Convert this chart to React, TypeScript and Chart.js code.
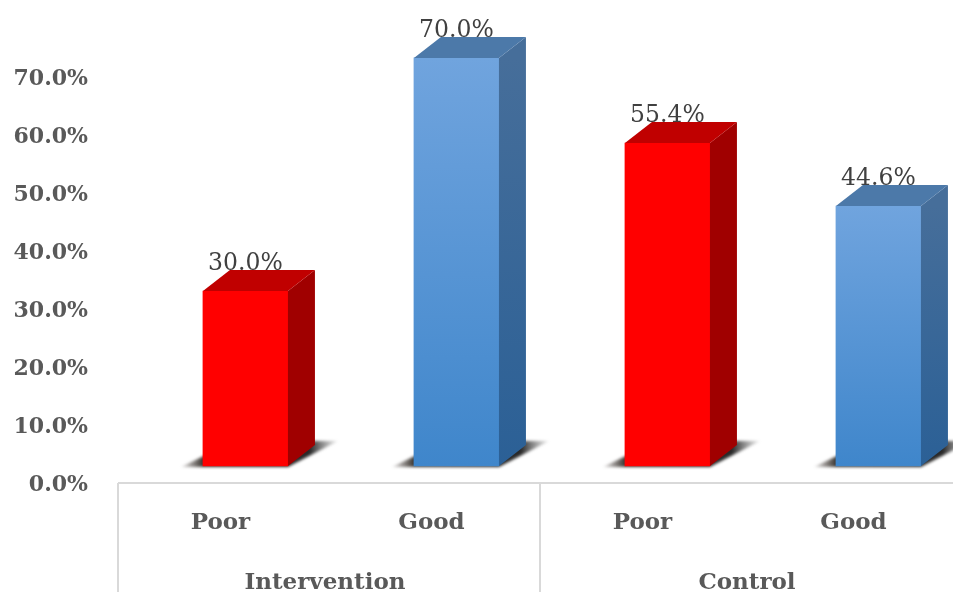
import React, { useEffect, useRef } from "react";
import { Chart, registerables } from "chart.js";

Chart.register(...registerables);

const groupLabels = ["Intervention", "Control"];
const levelLabels = ["Poor", "Good", "Poor", "Good"];
const barPositions = [0, 1, 2, 3];
const percentValues = [30.0, 70.0, 55.4, 44.6];
const axisTicks = [0, 10, 20, 30, 40, 50, 60, 70];

const FONT_FAMILY = '"DejaVu Serif", serif';
const TEXT_GREY = "#595959";
const RULE_GREY = "#d9d9d9";
const DEPTH_X = 27;
const DEPTH_Y = 21;

const faces: Record<string, any> = {
  Poor: { top: "#c00000", sideTop: "#a00000", sideBottom: "#a00000", frontTop: "#ff0000", frontBottom: "#ff0000" },
  Good: { top: "#4c79a9", sideTop: "#466e9a", sideBottom: "#2b6096", frontTop: "#70a4de", frontBottom: "#3f86cb" },
};

// Extruded sides, floor shadows, value labels and the category rules.
const extrusion = {
  id: "extrusion",
  beforeDatasetsDraw(chart: any) {
    const { ctx } = chart;
    const meta = chart.getDatasetMeta(0);
    ctx.save();
    ctx.filter = "blur(1.5px)";
    meta.data.forEach((bar: any) => {
      const half = bar.width / 2;
      const right = bar.x + half;
      const left = bar.x - half;
      const floor = bar.base;
      const grad = ctx.createLinearGradient(left - 22, 0, right + 50, 0);
      grad.addColorStop(0, "rgba(60,50,45,0.1)");
      grad.addColorStop(0.14, "rgba(50,45,40,0.95)");
      grad.addColorStop(0.82, "rgba(40,40,40,1)");
      grad.addColorStop(1, "rgba(90,90,90,0.1)");
      ctx.fillStyle = grad;
      ctx.beginPath();
      ctx.moveTo(left - 22, floor + 1);
      ctx.lineTo(left + 5, floor - 12);
      ctx.lineTo(right + DEPTH_X - 3, floor - 25);
      ctx.lineTo(right + 50, floor - 25);
      ctx.lineTo(right, floor + 1);
      ctx.closePath();
      ctx.fill();
    });
    ctx.restore();
  },
  afterDatasetsDraw(chart: any) {
    const { ctx } = chart;
    const meta = chart.getDatasetMeta(0);
    meta.data.forEach((bar: any, i: number) => {
      const half = bar.width / 2;
      const left = bar.x - half;
      const right = bar.x + half;
      const palette = faces[levelLabels[i]];

      // The label goes first so the top face overlaps its lower edge.
      ctx.save();
      ctx.font = `23.5px ${FONT_FAMILY}`;
      ctx.fillStyle = "#404040";
      ctx.textAlign = "center";
      ctx.textBaseline = "middle";
      ctx.fillText(`${percentValues[i].toFixed(1)}%`, bar.x, bar.y - 27);

      const side = ctx.createLinearGradient(0, bar.y, 0, bar.base);
      side.addColorStop(0, palette.sideTop);
      side.addColorStop(1, palette.sideBottom);
      ctx.fillStyle = side;
      ctx.beginPath();
      ctx.moveTo(right, bar.y);
      ctx.lineTo(right + DEPTH_X, bar.y - DEPTH_Y);
      ctx.lineTo(right + DEPTH_X, bar.base - DEPTH_Y);
      ctx.lineTo(right, bar.base);
      ctx.closePath();
      ctx.fill();

      ctx.fillStyle = palette.top;
      ctx.beginPath();
      ctx.moveTo(left, bar.y);
      ctx.lineTo(left + DEPTH_X, bar.y - DEPTH_Y);
      ctx.lineTo(right + DEPTH_X, bar.y - DEPTH_Y);
      ctx.lineTo(right, bar.y);
      ctx.closePath();
      ctx.fill();
      ctx.restore();
    });
  },
  afterDraw(chart: any) {
    const { ctx, chartArea, scales, height } = chart;
    const step = scales.x.getPixelForValue(1) - scales.x.getPixelForValue(0);
    ctx.save();
    ctx.strokeStyle = RULE_GREY;
    ctx.lineWidth = 2;
    ctx.beginPath();
    ctx.moveTo(chartArea.left, chartArea.bottom);
    ctx.lineTo(chartArea.right, chartArea.bottom);
    groupLabels.forEach((_, g) => {
      const edge = scales.x.getPixelForValue(g * 2) - step / 2;
      ctx.moveTo(edge, chartArea.bottom);
      ctx.lineTo(edge, height);
    });
    ctx.stroke();
    ctx.restore();
  },
};

export default function App() {
  const ref = useRef<HTMLCanvasElement>(null);

  useEffect(() => {
    document.body.style.margin = "0";
    document.body.style.overflow = "hidden";
    const chart = new Chart(ref.current as HTMLCanvasElement, {
      type: "bar",
      data: {
        datasets: [
          {
            label: "Share",
            xAxisID: "xBars",
            yAxisID: "yBars",
            data: barPositions.map((x, i) => ({ x, y: percentValues[i] })),
            barThickness: 85,
            borderWidth: 0,
            backgroundColor: (c: any) => {
              const palette = faces[levelLabels[c.dataIndex]];
              const { yBars } = c.chart.scales;
              if (!yBars || !c.chart.chartArea || c.raw == null) return palette.frontBottom;
              const g = c.chart.ctx.createLinearGradient(0, yBars.getPixelForValue(c.raw.y), 0, yBars.getPixelForValue(0));
              g.addColorStop(0, palette.frontTop);
              g.addColorStop(1, palette.frontBottom);
              return g;
            },
          },
        ],
      },
      options: {
        responsive: false,
        animation: false,
        clip: false,
        layout: { padding: { top: 19, right: 3, left: 0, bottom: 0 } },
        plugins: { legend: { display: false }, tooltip: { enabled: false } },
        scales: {
          y: {
            position: "left",
            min: 0.35,
            max: 80.35,
            afterBuildTicks: (axis: any) => {
              axis.ticks = axisTicks.map((value) => ({ value }));
            },
            afterFit: (axis: any) => {
              axis.width = 118;
              axis.paddingTop = 0;
              axis.paddingBottom = 0;
            },
            grid: { display: false },
            border: { display: false },
            ticks: {
              padding: 22,
              color: TEXT_GREY,
              font: { family: FONT_FAMILY, size: 22, weight: "bold" },
              callback: (v: any) => `${Number(v).toFixed(1)}%`,
            },
          },
          yBars: { display: false, min: -2.92, max: 76.67 },
          xBars: { type: "linear", display: false, offset: false, min: -0.604, max: 3.396 },
          x: {
            type: "category",
            position: "bottom",
            labels: levelLabels,
            offset: true,
            afterFit: (axis: any) => {
              axis.height = 68;
              axis.paddingLeft = 0;
              axis.paddingRight = 0;
            },
            grid: { display: false },
            border: { display: false },
            ticks: {
              padding: 18,
              labelOffset: -3,
              autoSkip: false,
              maxRotation: 0,
              color: TEXT_GREY,
              font: { family: FONT_FAMILY, size: 23, weight: "bold" },
            },
          },
          xGroup: {
            type: "category",
            position: "bottom",
            labels: groupLabels,
            offset: true,
            afterFit: (axis: any) => {
              axis.height = 41;
              axis.paddingLeft = 0;
              axis.paddingRight = 0;
            },
            grid: { display: false },
            border: { display: false },
            ticks: {
              padding: 10,
              labelOffset: -4,
              autoSkip: false,
              maxRotation: 0,
              color: TEXT_GREY,
              font: { family: FONT_FAMILY, size: 23, weight: "bold" },
            },
          },
        },
      } as any,
      plugins: [extrusion],
    });
    return () => chart.destroy();
  }, []);

  return (
    <div style={{ width: 953, height: 592, overflow: "hidden", background: "#ffffff" }}>
      <canvas ref={ref} width={965} height={592} style={{ display: "block" }} />
    </div>
  );
}
